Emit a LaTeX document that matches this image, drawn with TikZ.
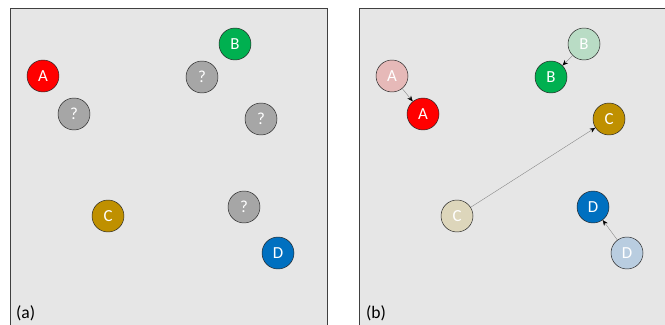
\documentclass[tikz,border=0pt]{standalone}
\usepackage{fontspec}
\setmainfont{Carlito}
\usepackage{xcolor}
\usetikzlibrary{arrows.meta}
\definecolor{panelbg}{HTML}{E6E6E6}
\definecolor{panelrim}{HTML}{404040}
\definecolor{ballrim}{HTML}{262626}
\definecolor{myred}{HTML}{FF0000}
\definecolor{mygreen}{HTML}{00B050}
\definecolor{mygold}{HTML}{BF9000}
\definecolor{myblue}{HTML}{0070C0}
\definecolor{mygray}{HTML}{A6A6A6}
\definecolor{palered}{HTML}{E6B9B8}
\definecolor{palegreen}{HTML}{B9DCC5}
\definecolor{palegold}{HTML}{DDD6BB}
\definecolor{paleblue}{HTML}{B9CDE0}
\definecolor{linegray}{HTML}{808080}

\begin{document}
\begin{tikzpicture}[
  x=0.05cm, y=-0.05cm,
  panel/.style={fill=panelbg, draw=panelrim, line width=0.7pt},
  ball/.style={circle, draw=ballrim, line width=0.7pt, minimum size=1.6cm, inner sep=0pt, text=white, font=\fontsize{24}{24}\selectfont},
  redball/.style={ball, fill=myred},
  greenball/.style={ball, fill=mygreen},
  goldball/.style={ball, fill=mygold},
  blueball/.style={ball, fill=myblue},
  grayball/.style={ball, fill=mygray},
  paleredball/.style={ball, fill=palered},
  palegreenball/.style={ball, fill=palegreen},
  palegoldball/.style={ball, fill=palegold},
  paleblueball/.style={ball, fill=paleblue},
  tag/.style={font=\fontsize{25}{25}\selectfont, anchor=base west, inner sep=0pt},
  mv/.style={-{Stealth[length=8pt, width=6.5pt, color=black]}, draw=linegray, line width=0.5pt},
]
\clip (0,0) rectangle (665,325);

%% Panels
\draw[panel] (10,8) rectangle (327,340);
\draw[panel] (359,8) rectangle (680,340);

%% (a) before
\node[redball] (a-A) at (43,76) {A};
\node[grayball] (a-q1) at (74,114) {?};
\node[greenball] (a-B) at (235,44) {B};
\node[grayball] (a-q2) at (202,77) {?};
\node[grayball] (a-q3) at (261,119) {?};
\node[goldball] (a-C) at (108,216) {C};
\node[grayball] (a-q4) at (244,207) {?};
\node[blueball] (a-D) at (278,253) {D};
\node[tag] (a-tag) at (16,318) {(a)};

%% (b) old positions
\node[paleredball] (b-A0) at (392,76) {A};
\node[palegreenball] (b-B0) at (584,44) {B};
\node[palegoldball] (b-C0) at (457,216) {C};
\node[paleblueball] (b-D0) at (627,253) {D};

%% (b) new positions
\node[redball] (b-A) at (423,114) {A};
\node[greenball] (b-B) at (551,77) {B};
\node[goldball] (b-C) at (609,119) {C};
\node[blueball] (b-D) at (593,207) {D};
\node[tag] (b-tag) at (366,318) {(b)};

%% Moves
\draw[mv] (b-A0) -- (b-A);
\draw[mv] (b-B0) -- (b-B);
\draw[mv] (b-C0) -- (b-C);
\draw[mv] (b-D0) -- (b-D);

\end{tikzpicture}
\end{document}
